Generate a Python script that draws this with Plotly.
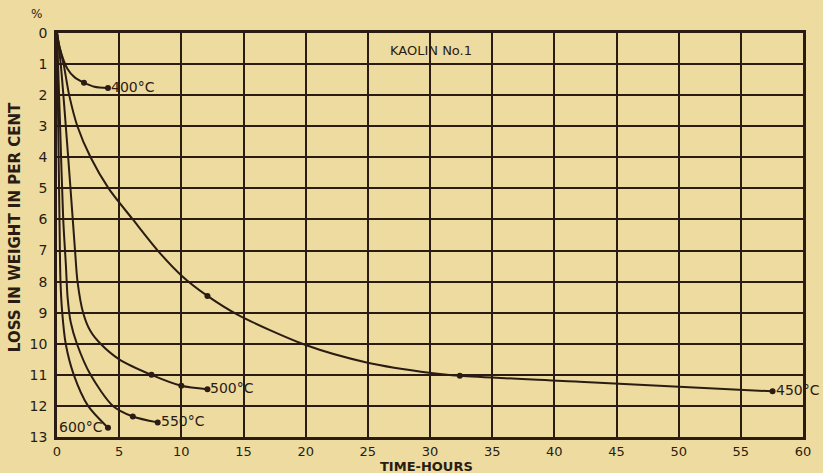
import plotly.graph_objects as go

# ---- data ----
t_400 = [0, 0.2, 0.85, 1.4, 2.17, 3.0, 4.1]
loss_400 = [0, 0.45, 1.16, 1.42, 1.6, 1.73, 1.77]
dot_t_400 = [2.17, 4.1]
dot_loss_400 = [1.6, 1.77]

t_450 = [0, 0.2, 0.53, 0.98, 1.64, 2.7, 4.15, 6.1, 8.1, 10.0, 12.1, 14.55, 20.0, 24.9, 30.1, 32.4, 42.0, 57.55]
loss_450 = [0, 0.45, 1.0, 2.0, 3.0, 4.0, 5.0, 6.0, 7.0, 7.8, 8.46, 9.07, 10.04, 10.6, 10.94, 11.03, 11.22, 11.53]
dot_t_450 = [12.1, 32.4, 57.55]
dot_loss_450 = [8.46, 11.03, 11.53]

t_500 = [0, 0.3, 0.9, 1.45, 1.65, 2.1, 2.7, 3.5, 5.0, 7.6, 10.0, 12.1]
loss_500 = [0, 1.0, 4.0, 7.0, 8.0, 9.0, 9.6, 10.0, 10.5, 11.0, 11.35, 11.46]
dot_t_500 = [7.6, 10.0, 12.1]
dot_loss_500 = [11.0, 11.35, 11.46]

t_550 = [0, 0.25, 0.5, 0.72, 0.85, 1.1, 1.6, 2.7, 4.5, 6.1, 8.1]
loss_550 = [0, 3.0, 6.0, 7.5, 8.5, 9.3, 10.0, 11.0, 12.0, 12.34, 12.53]
dot_t_550 = [6.1, 8.1]
dot_loss_550 = [12.34, 12.53]

t_600 = [0, 0.1, 0.2, 0.28, 0.42, 0.7, 1.35, 2.5, 4.1]
loss_600 = [0, 3.0, 6.0, 8.0, 9.0, 10.0, 11.0, 12.0, 12.7]
dot_t_600 = [4.1]
dot_loss_600 = [12.7]

x_ticks = [0, 5, 10, 15, 20, 25, 30, 35, 40, 45, 50, 55, 60]
y_ticks = list(range(0, 14))

INK = "#2a1c12"
PAPER = "#EDDBA0"
FONT = "'DejaVu Sans', sans-serif"

fig = go.Figure()

series = [
    (t_400, loss_400, dot_t_400, dot_loss_400),
    (t_450, loss_450, dot_t_450, dot_loss_450),
    (t_500, loss_500, dot_t_500, dot_loss_500),
    (t_550, loss_550, dot_t_550, dot_loss_550),
    (t_600, loss_600, dot_t_600, dot_loss_600),
]
for tx, ly, dx, dy in series:
    fig.add_trace(go.Scatter(x=tx, y=ly, mode="lines",
                             line=dict(color=INK, width=2, shape="spline", smoothing=0.8),
                             hoverinfo="skip", showlegend=False))
    fig.add_trace(go.Scatter(x=dx, y=dy, mode="markers",
                             marker=dict(color=INK, size=6),
                             hoverinfo="skip", showlegend=False))

labels = [
    ("400°C", dot_t_400[-1], dot_loss_400[-1], "left"),
    ("450°C", dot_t_450[-1], dot_loss_450[-1], "left"),
    ("500°C", dot_t_500[-1], dot_loss_500[-1], "left"),
    ("550°C", dot_t_550[-1], dot_loss_550[-1], "left"),
    ("600°C", dot_t_600[-1], dot_loss_600[-1], "right"),
]
for txt, x, y, anc in labels:
    fig.add_annotation(x=x, y=y, text=txt, showarrow=False,
                       xanchor=anc, yanchor="middle",
                       xshift=1 if anc == "left" else -3, yshift=1,
                       font=dict(family=FONT, size=14, color=INK))

fig.add_annotation(x=30.1, y=0.55, text="KAOLIN No.1", showarrow=False,
                   xanchor="center", yanchor="middle",
                   font=dict(family=FONT, size=13, color=INK))

fig.add_annotation(xref="paper", yref="paper", x=-0.017, y=1.0, yshift=10,
                   text="%", showarrow=False, xanchor="right", yanchor="bottom",
                   font=dict(family=FONT, size=12, color=INK))

fig.add_annotation(xref="paper", yref="paper", x=0.495, y=0, yshift=-29,
                   text="<b>TIME-HOURS</b>", showarrow=False,
                   xanchor="center", yanchor="middle",
                   font=dict(family=FONT, size=13, color=INK))

fig.add_annotation(xref="paper", yref="paper", x=-0.056, y=0.52,
                   text="<b>LOSS IN WEIGHT IN PER CENT</b>", showarrow=False,
                   textangle=-90, xanchor="center", yanchor="middle",
                   font=dict(family=FONT, size=15, color=INK))

fig.update_xaxes(range=[0, 60], tickvals=x_ticks, ticktext=[str(v) for v in x_ticks],
                 showgrid=True, gridcolor=INK, gridwidth=1.5,
                 showline=True, linecolor=INK, linewidth=2.5, mirror=True,
                 zeroline=False, ticks="", ticklabelstandoff=1,
                 tickfont=dict(family=FONT, size=13, color=INK))
fig.update_yaxes(range=[13, 0], tickvals=y_ticks, ticktext=[str(v) for v in y_ticks],
                 showgrid=True, gridcolor=INK, gridwidth=1.5,
                 showline=True, linecolor=INK, linewidth=2.5, mirror=True,
                 zeroline=False, ticks="", ticklabelstandoff=4,
                 tickfont=dict(family=FONT, size=14, color=INK))

fig.update_layout(width=823, height=473, autosize=False,
                  margin=dict(l=57, r=20, t=33, b=36),
                  paper_bgcolor=PAPER, plot_bgcolor=PAPER,
                  showlegend=False)

fig.write_html(
    "out.html",
    config={"displayModeBar": False},
    post_script="document.body.style.margin='0';document.body.style.background='" + PAPER + "';document.body.style.overflow='hidden';",
)
